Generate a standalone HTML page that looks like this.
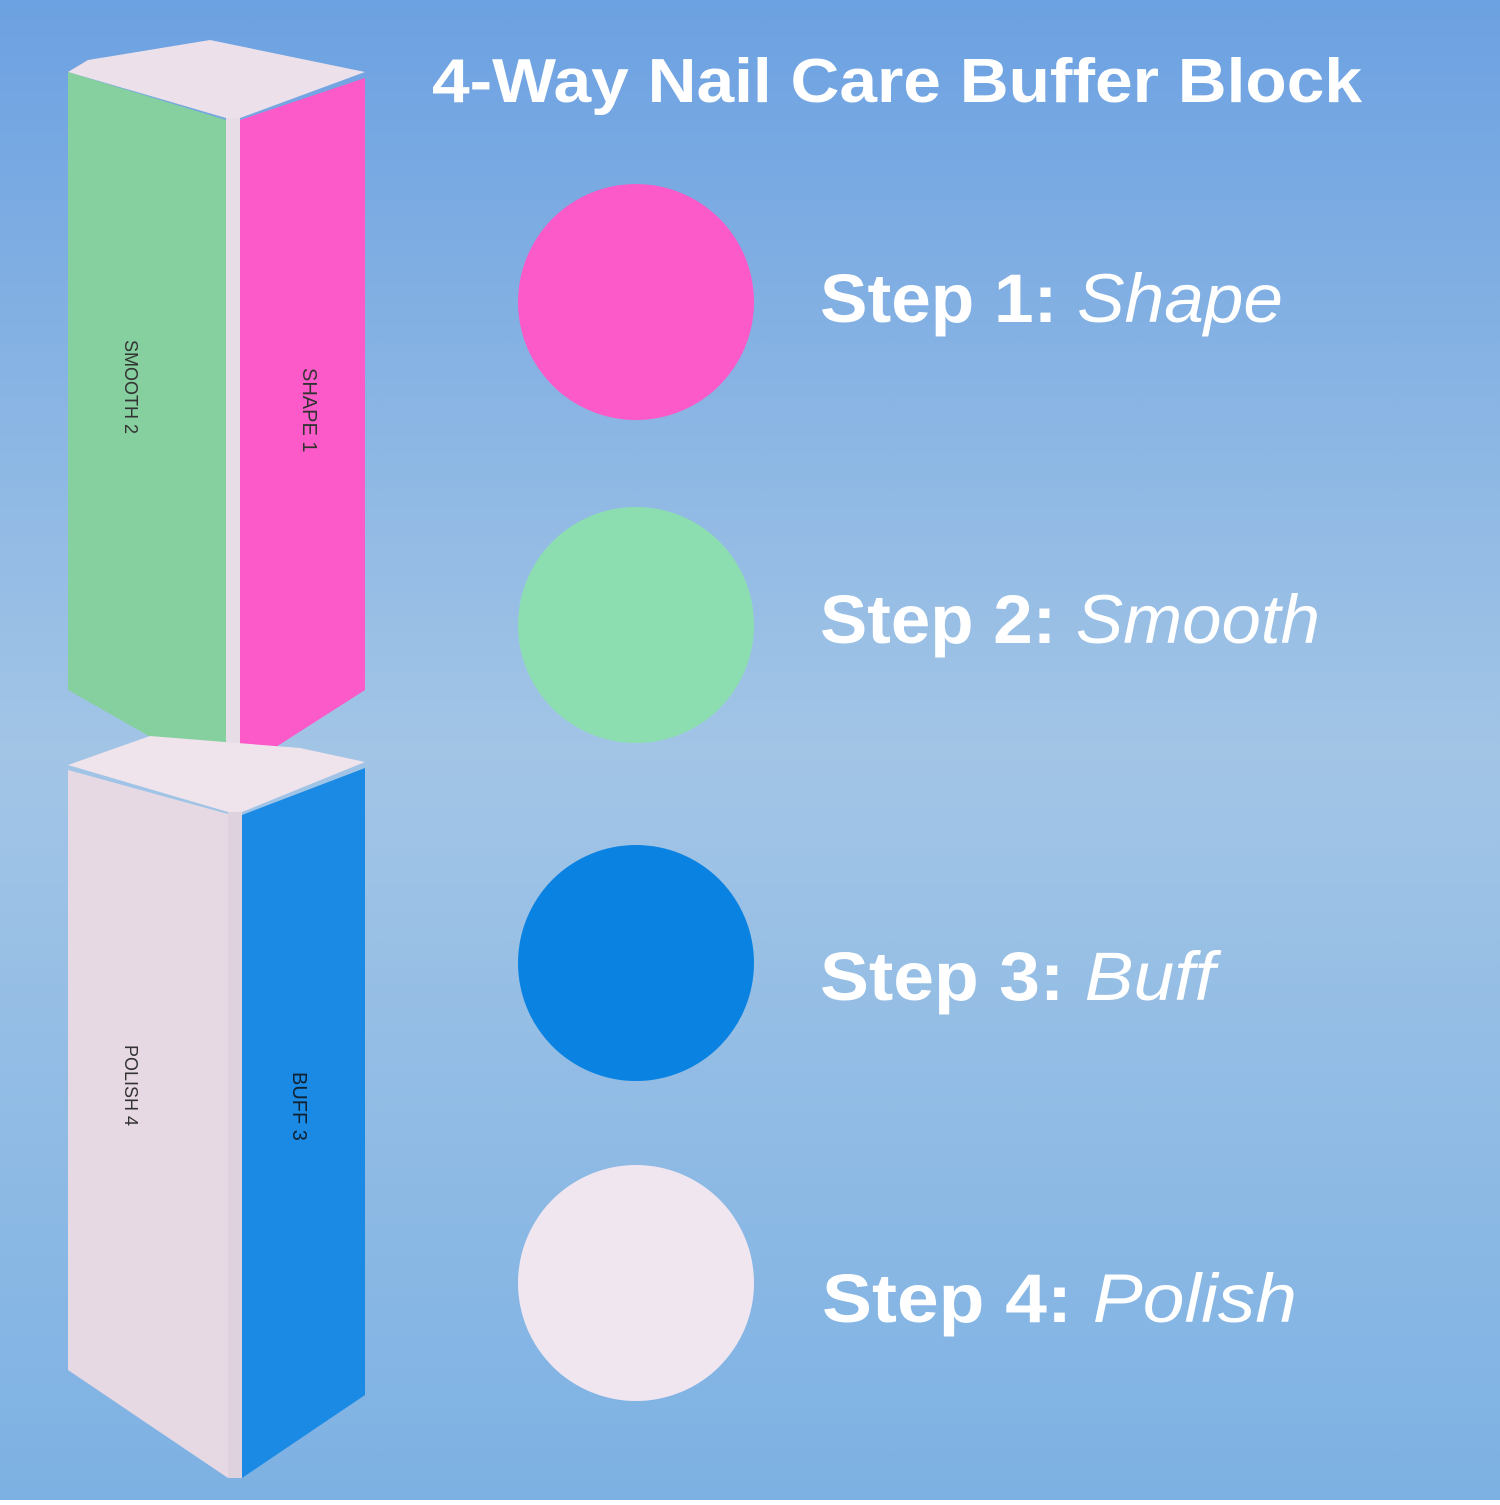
<!DOCTYPE html>
<html><head><meta charset="utf-8"><style>html,body{margin:0;padding:0}body{width:1500px;height:1500px;overflow:hidden}</style></head>
<body>
<svg width="1500" height="1500" viewBox="0 0 1500 1500" xmlns="http://www.w3.org/2000/svg">
<defs>
<linearGradient id="bg" x1="0" y1="0" x2="0" y2="1">
<stop offset="0" stop-color="#6ca1e1"/>
<stop offset="0.5" stop-color="#a2c5e6"/>
<stop offset="1" stop-color="#7db1e3"/>
</linearGradient>
</defs>
<rect width="1500" height="1500" fill="url(#bg)"/>
<polygon points="68,72 88,60 210,40 365,72 240,118 226,118" fill="#ece0ea"/>
<polygon points="68,72 226,120 226,780 68,690" fill="#86cf9f"/>
<polygon points="226,118 240,118 240,772 226,780" fill="#e6dde6"/>
<polygon points="240,120 365,78 365,690 240,770" fill="#fb5ac8"/>
<polygon points="68,765 150,736 300,748 365,762 242,812 228,812" fill="#efe3ec"/>
<polygon points="68,770 228,814 228,1478 68,1370" fill="#e6d9e4"/>
<polygon points="228,812 242,812 242,1478 228,1478" fill="#ddd2de"/>
<polygon points="242,815 365,768 365,1395 242,1478" fill="#1a8ae4"/>
<g font-family="Liberation Sans, sans-serif" font-size="18" fill="#333">
<text transform="translate(125,340) rotate(90)">SMOOTH 2</text>
<text transform="translate(303,368) rotate(90)" font-size="20">SHAPE 1</text>
<text transform="translate(125,1045) rotate(90)">POLISH 4</text>
<text transform="translate(293,1072) rotate(90)" font-size="20" fill="#123">BUFF 3</text>
</g>
<circle cx="636" cy="302" r="118" fill="#fb5ac8"/>
<circle cx="636" cy="625" r="118" fill="#8cdeb0"/>
<circle cx="636" cy="963" r="118" fill="#0a82e2"/>
<circle cx="636" cy="1283" r="118" fill="#f0e6f0"/>
<g font-family="Liberation Sans, sans-serif" fill="#fff">
<text x="432" y="102" font-size="62" font-weight="bold" textLength="930" lengthAdjust="spacingAndGlyphs">4-Way Nail Care Buffer Block</text>
<text x="820" y="322" font-size="69" textLength="463" lengthAdjust="spacingAndGlyphs"><tspan font-weight="bold">Step 1: </tspan><tspan font-style="italic">Shape</tspan></text>
<text x="820" y="643" font-size="69" textLength="500" lengthAdjust="spacingAndGlyphs"><tspan font-weight="bold">Step 2: </tspan><tspan font-style="italic">Smooth</tspan></text>
<text x="820" y="1000" font-size="69" textLength="395" lengthAdjust="spacingAndGlyphs"><tspan font-weight="bold">Step 3: </tspan><tspan font-style="italic">Buff</tspan></text>
<text x="822" y="1322" font-size="69" textLength="475" lengthAdjust="spacingAndGlyphs"><tspan font-weight="bold">Step 4: </tspan><tspan font-style="italic">Polish</tspan></text>
</g>
</svg>
</body></html>
